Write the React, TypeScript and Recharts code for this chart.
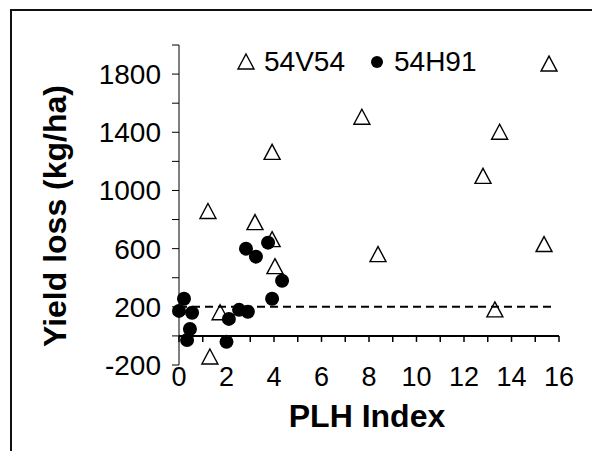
import { ScatterChart, Scatter, XAxis, YAxis, ReferenceLine, Label } from 'recharts'

// PLH index (x) and yield loss in kg/ha (y)
const v54X = [1.3, 1.22, 3.2, 3.92, 3.92, 4.04, 1.73, 7.7, 8.38, 12.8, 13.5, 13.3, 15.37, 15.58]
const v54Y = [-145, 855, 779, 1262, 662, 476, 159, 1503, 559, 1097, 1400, 179, 628, 1869]
const h91X = [0, 0.21, 0.55, 0.46, 0.34, 2.0, 2.1, 2.53, 2.9, 2.82, 3.24, 3.75, 3.92, 4.34]
const h91Y = [172, 255, 159, 48, -28, -41, 117, 179, 166, 600, 545, 641, 255, 379]

const xTicks = [0, 1, 2, 3, 4, 5, 6, 7, 8, 9, 10, 11, 12, 13, 14, 15, 16]
const yTicks = [-200, 0, 200, 400, 600, 800, 1000, 1200, 1400, 1600, 1800, 2000]
const threshold = 200
const thresholdEnd = 15.8

const Y_MIN = -200
const Y_MAX = 2000
const W = 592
const H = 451
const MARGIN = { top: 45, right: 33, bottom: 56, left: 11 }
const Y_AXIS_W = 168
const X_AXIS_H = 30
const PLOT_W = W - MARGIN.left - MARGIN.right - Y_AXIS_W
const PLOT_H = H - MARGIN.top - MARGIN.bottom - X_AXIS_H
const ZERO_UP = (PLOT_H * (0 - Y_MIN)) / (Y_MAX - Y_MIN)

const FONT = '"Liberation Sans", Arial, sans-serif'

const v54 = v54X.map((x, i) => ({ x, y: v54Y[i] }))
const h91 = h91X.map((x, i) => ({ x, y: h91Y[i] }))

const Triangle = ({ cx, cy }: any) => (
  <path
    d={`M${cx},${cy - 8} L${cx + 8},${cy + 7} L${cx - 8},${cy + 7} Z`}
    fill="none"
    stroke="#000"
    strokeWidth={1.4}
  />
)

const Dot = ({ cx, cy }: any) => <circle cx={cx} cy={cy} r={7} fill="#000" />

// x ticks: a mark on the zero line every unit, a label at the bottom every 2
const XTick = ({ x, y, payload }: any) => {
  const zy = y - ZERO_UP
  return (
    <g>
      <line x1={x} x2={x} y1={zy} y2={zy + 6} stroke="#000" strokeWidth={1.5} />
      {payload.value % 2 === 0 && (
        <text x={x} y={y + 2} dy="0.71em" textAnchor="middle" fontSize={27} fontFamily={FONT} fill="#000">
          {payload.value}
        </text>
      )}
    </g>
  )
}

// y ticks: labels every 400 from -200; the 0 tick also carries the x axis line
const YTick = ({ x, y, payload }: any) => {
  const v = payload.value
  const axisX = x + 18
  return (
    <g>
      {v === 0 && <line x1={axisX} x2={axisX + PLOT_W} y1={y} y2={y} stroke="#000" strokeWidth={2} />}
      {(v + 200) % 400 === 0 && (
        <text x={x} y={y} dy="0.355em" textAnchor="end" fontSize={28} fontFamily={FONT} fill="#000">
          {v}
        </text>
      )}
    </g>
  )
}

function LegendBox() {
  const text = { position: 'absolute' as const, top: 0, lineHeight: '30px', fontSize: 28, fontFamily: FONT, color: '#000' }
  return (
    <div style={{ position: 'absolute', left: 236, top: 47, width: 260, height: 30 }}>
      <svg width={20} height={30} style={{ position: 'absolute', left: 0, top: 0 }}>
        <path d="M10,7 L18,22 L2,22 Z" fill="none" stroke="#000" strokeWidth={1.4} />
      </svg>
      <span style={{ ...text, left: 28 }}>54V54</span>
      <svg width={16} height={30} style={{ position: 'absolute', left: 133, top: 0 }}>
        <circle cx={8} cy={15} r={6} fill="#000" />
      </svg>
      <span style={{ ...text, left: 158 }}>54H91</span>
    </div>
  )
}

export default function App() {
  return (
    <div style={{ position: 'absolute', left: 0, top: 0, width: W, height: H, background: '#fff' }}>
      <div
        style={{
          position: 'absolute', left: 10, top: 9, right: 0, bottom: 0,
          borderLeft: '2px solid #111', borderTop: '2px solid #111',
        }}
      />
      <div style={{ position: 'absolute', left: 0, top: 0 }}>
        <ScatterChart width={W} height={H} margin={MARGIN}>
          <XAxis
            type="number"
            dataKey="x"
            domain={[0, 16]}
            ticks={xTicks}
            interval={0}
            axisLine={false}
            tickLine={false}
            tickSize={0}
            tickMargin={0}
            height={X_AXIS_H}
            tick={<XTick />}
          >
            <Label
              content={(p: any) => {
                const vb = p.viewBox
                return (
                  <text
                    x={vb.x + vb.width / 2 - 2}
                    y={vb.y + 51}
                    textAnchor="middle"
                    dominantBaseline="central"
                    fontSize={32}
                    fontWeight="bold"
                    fontFamily={FONT}
                    fill="#000"
                  >
                    PLH Index
                  </text>
                )
              }}
            />
          </XAxis>
          <YAxis
            type="number"
            dataKey="y"
            domain={[Y_MIN, Y_MAX]}
            ticks={yTicks}
            interval={0}
            width={Y_AXIS_W}
            stroke="#000"
            tickSize={7}
            tickMargin={11}
            tick={<YTick />}
          >
            <Label
              content={(p: any) => {
                const vb = p.viewBox
                const x = vb.x + 44
                const y = vb.y + vb.height / 2 + 11
                return (
                  <text
                    x={x}
                    y={y}
                    transform={`rotate(-90 ${x} ${y})`}
                    textAnchor="middle"
                    dominantBaseline="central"
                    fontSize={32}
                    fontWeight="bold"
                    fontFamily={FONT}
                    fill="#000"
                  >
                    Yield loss (kg/ha)
                  </text>
                )
              }}
            />
          </YAxis>
          <ReferenceLine y={0} stroke="#000" strokeWidth={2} />
          <ReferenceLine
            segment={[{ x: 0, y: threshold }, { x: thresholdEnd, y: threshold }]}
            stroke="#000"
            strokeWidth={2}
            strokeDasharray="8 5"
          />
          <Scatter name="54H91" data={h91} shape={Dot} isAnimationActive={false} />
          <Scatter name="54V54" data={v54} shape={Triangle} isAnimationActive={false} />
        </ScatterChart>
      </div>
      <LegendBox />
    </div>
  )
}
